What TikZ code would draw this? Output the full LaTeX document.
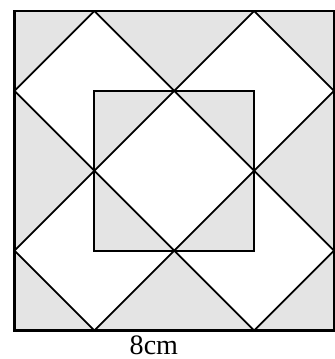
\documentclass[tikz,border=0pt]{standalone}
\usepackage{fontspec}
\setmainfont{Liberation Serif}
\usetikzlibrary{calc}
\definecolor{shadegray}{HTML}{E4E4E4}
\tikzset{
  frame/.style={draw=black,line width=2pt},
  cutline/.style={draw=black,line width=1.3pt,line cap=round},
  shaded/.style={fill=shadegray},
  blank/.style={fill=white},
  dimlabel/.style={font=\fontsize{20}{22}\selectfont,inner sep=0pt}
}

\begin{document}
\begin{tikzpicture}[x=2cm,y=2cm]
  \useasboundingbox (-0.18125,-0.35625) rectangle (4.0,4.1375);

  % corners of the big square and of the middle square
  \coordinate (sw) at (0,0);
  \coordinate (ne) at (4,4);
  \coordinate (isw) at (1,1);
  \coordinate (ine) at (3,3);
  % points where the slanted lines meet the big square
  \coordinate (t1) at (1,4);
  \coordinate (t3) at (3,4);
  \coordinate (l1) at (0,1);
  \coordinate (l3) at (0,3);
  \coordinate (r1) at (4,1);
  \coordinate (r3) at (4,3);
  \coordinate (b1) at (1,0);
  \coordinate (b3) at (3,0);
  % crossing points
  \coordinate (ct) at (2,3);
  \coordinate (cl) at (1,2);
  \coordinate (cr) at (3,2);
  \coordinate (cb) at (2,1);

  % shading
  \fill[shaded] (sw) rectangle (ne);
  \fill[blank] (t1) -- (l3) -- (cl) -- (ct) -- cycle;
  \fill[blank] (t3) -- (ct) -- (cr) -- (r3) -- cycle;
  \fill[blank] (cl) -- (l1) -- (b1) -- (cb) -- cycle;
  \fill[blank] (cr) -- (cb) -- (b3) -- (r1) -- cycle;
  \fill[shaded] (isw) rectangle (ine);
  \fill[blank] (ct) -- (cl) -- (cb) -- (cr) -- cycle;

  % slanted lines
  \draw[cutline] (l3) -- (t1);
  \draw[cutline] (l1) -- (t3);
  \draw[cutline] (b1) -- (r3);
  \draw[cutline] (b3) -- (r1);
  \draw[cutline] (l3) -- (b3);
  \draw[cutline] (t1) -- (r1);
  \draw[cutline] (l1) -- (b1);
  \draw[cutline] (t3) -- (r3);

  \draw[cutline] (isw) rectangle (ine);
  \draw[frame] (sw) rectangle (ne);

  \node[dimlabel] (side) at (1.745,-0.185) {8cm};
\end{tikzpicture}
\end{document}
